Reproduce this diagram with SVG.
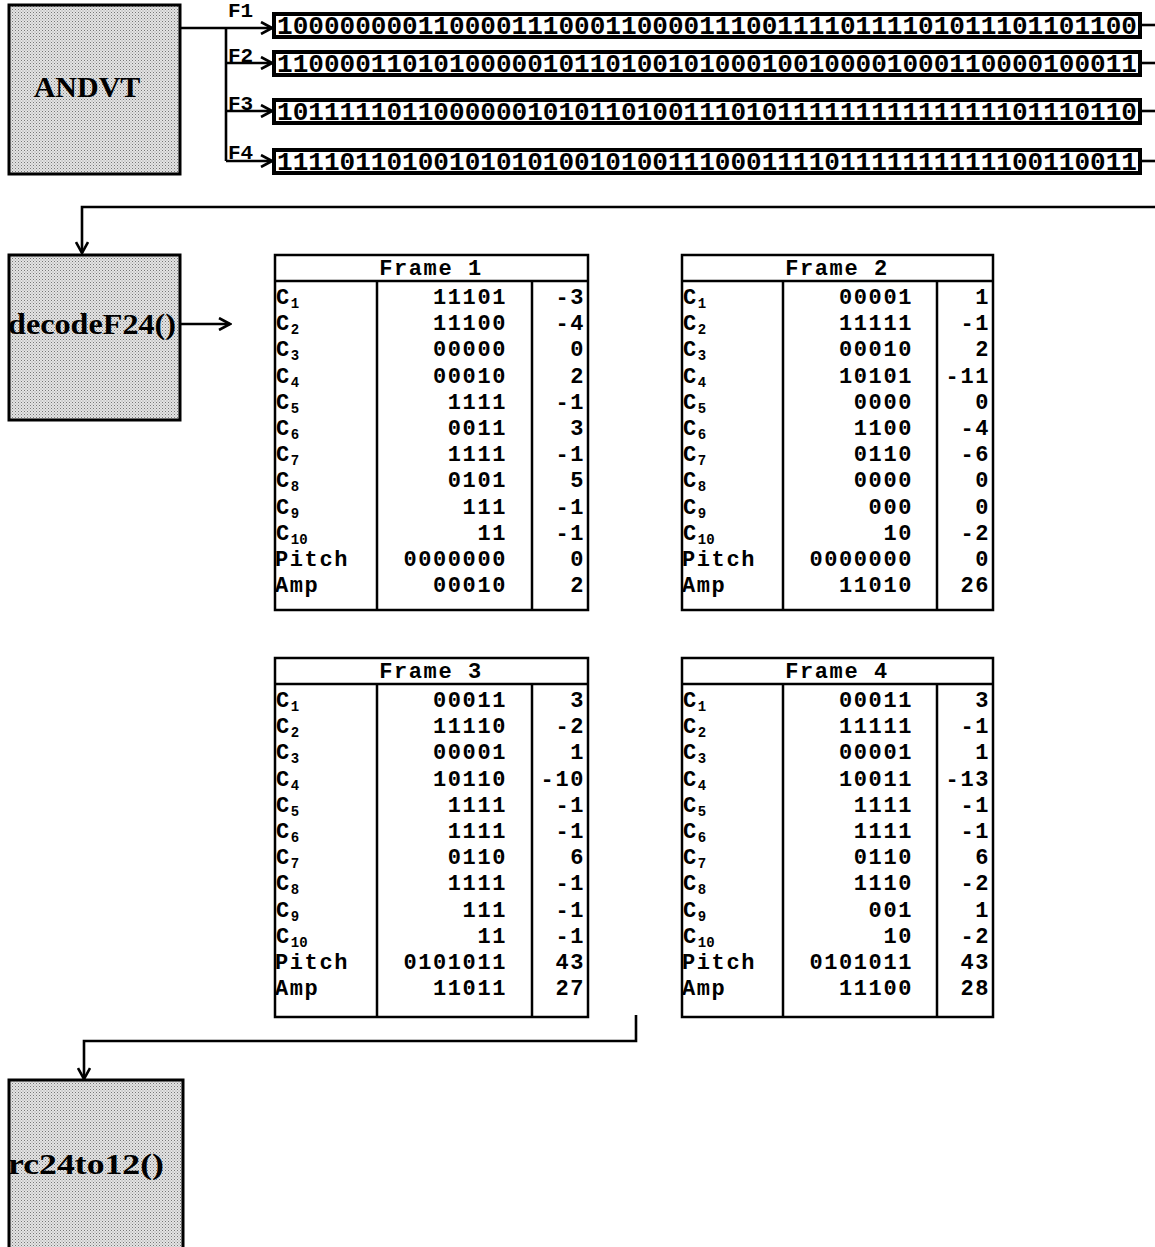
<svg xmlns="http://www.w3.org/2000/svg" width="1155" height="1247" viewBox="0 0 1155 1247">
<defs>
<pattern id="dots" width="3" height="3" patternUnits="userSpaceOnUse">
<rect width="3" height="3" fill="#e4e4e4"/>
<rect x="0" y="0" width="1" height="1" fill="#777"/>
<rect x="1.5" y="1.5" width="1" height="1" fill="#999"/>
</pattern>
<marker id="arr" viewBox="0 0 14 14" refX="12" refY="7" markerWidth="14" markerHeight="14" markerUnits="userSpaceOnUse" orient="auto">
<path d="M1,1 L12,7 L1,13" fill="none" stroke="#000" stroke-width="2.6"/>
</marker>
</defs>
<style>
.box{fill:url(#dots);stroke:#000;stroke-width:3}
.btxt{font-family:"Liberation Serif","Times New Roman",serif;font-weight:bold;font-size:30px;fill:#000}
.ln{fill:none;stroke:#000;stroke-width:2.6}
.strip{fill:#fff;stroke:#000;stroke-width:4}
.bits{font-family:"Liberation Mono","Courier New",monospace;font-weight:bold;font-size:26px;fill:#000}
.flab{font-family:"Liberation Mono","Courier New",monospace;font-weight:bold;font-size:21px;fill:#000}
.tb{fill:#fff;stroke:#000;stroke-width:2.5}
.tt{font-family:"Liberation Mono","Courier New",monospace;font-weight:bold;font-size:22px;letter-spacing:1.6px;fill:#000}
.r{text-anchor:end}
.c{text-anchor:middle}
.sub{font-size:14px;letter-spacing:0}
</style>

<g id="connectors">
<path class="ln" d="M180,28 H272" marker-end="url(#arr)"/>
<path class="ln" d="M226,28 V161"/>
<path class="ln" d="M226,63 H272" marker-end="url(#arr)"/>
<path class="ln" d="M226,111 H272" marker-end="url(#arr)"/>
<path class="ln" d="M226,161 H272" marker-end="url(#arr)"/>
<path class="ln" d="M1140,25 H1155"/>
<path class="ln" d="M1140,63 H1155"/>
<path class="ln" d="M1140,111 H1155"/>
<path class="ln" d="M1140,161 H1155"/>
<path class="ln" d="M1155,207 H82 V253" marker-end="url(#arr)"/>
<path class="ln" d="M178,324 H230" marker-end="url(#arr)"/>
<path class="ln" d="M636,1015 V1041 H84 V1079" marker-end="url(#arr)"/>
</g>

<g id="andvt">
<rect class="box" x="9" y="5" width="171" height="169"/>
<text class="btxt" x="87" y="97" text-anchor="middle">ANDVT</text>
</g>

<g id="bitstreams">
<text class="flab" x="228" y="17">F1</text>
<text class="flab" x="228" y="62">F2</text>
<text class="flab" x="228" y="110">F3</text>
<text class="flab" x="228" y="159">F4</text>
<rect class="strip" x="274" y="14" width="866" height="23"/>
<rect class="strip" x="274" y="52" width="866" height="23"/>
<rect class="strip" x="274" y="100" width="866" height="23"/>
<rect class="strip" x="274" y="150" width="866" height="23"/>
<text class="bits" x="277" y="34" textLength="860" lengthAdjust="spacingAndGlyphs">1000000001100001110001100001110011110111101011101101100</text>
<text class="bits" x="277" y="72" textLength="860" lengthAdjust="spacingAndGlyphs">1100001101010000010110100101000100100001000110000100011</text>
<text class="bits" x="277" y="120" textLength="860" lengthAdjust="spacingAndGlyphs">1011111011000000101011010011101011111111111111101110110</text>
<text class="bits" x="277" y="170" textLength="860" lengthAdjust="spacingAndGlyphs">1111011010010101010010100111000111101111111111100110011</text>
</g>

<g id="decodeF24">
<rect class="box" x="9" y="255" width="171" height="165"/>
<text class="btxt" x="8" y="334" textLength="168" lengthAdjust="spacingAndGlyphs">decodeF24()</text>
</g>

<g id="frame1" transform="translate(275,255)">
<rect class="tb" x="0" y="0" width="313" height="355"/>
<line class="tb" x1="0" y1="26" x2="313" y2="26"/>
<line class="tb" x1="102" y1="26" x2="102" y2="355"/>
<line class="tb" x1="257" y1="26" x2="257" y2="355"/>
<text class="tt c" x="156" y="20">Frame 1</text>
<g class="tt">
<text x="1" y="49">C<tspan class="sub" dy="3.5">1</tspan></text>
<text x="1" y="75">C<tspan class="sub" dy="3.5">2</tspan></text>
<text x="1" y="101">C<tspan class="sub" dy="3.5">3</tspan></text>
<text x="1" y="128">C<tspan class="sub" dy="3.5">4</tspan></text>
<text x="1" y="154">C<tspan class="sub" dy="3.5">5</tspan></text>
<text x="1" y="180">C<tspan class="sub" dy="3.5">6</tspan></text>
<text x="1" y="206">C<tspan class="sub" dy="3.5">7</tspan></text>
<text x="1" y="232">C<tspan class="sub" dy="3.5">8</tspan></text>
<text x="1" y="259">C<tspan class="sub" dy="3.5">9</tspan></text>
<text x="1" y="285">C<tspan class="sub" dy="3.5">10</tspan></text>
<text x="0" y="311">Pitch</text>
<text x="0" y="337">Amp</text>
</g>
<g class="tt r">
<text x="232" y="49">11101</text><text x="310" y="49">-3</text>
<text x="232" y="75">11100</text><text x="310" y="75">-4</text>
<text x="232" y="101">00000</text><text x="310" y="101">0</text>
<text x="232" y="128">00010</text><text x="310" y="128">2</text>
<text x="232" y="154">1111</text><text x="310" y="154">-1</text>
<text x="232" y="180">0011</text><text x="310" y="180">3</text>
<text x="232" y="206">1111</text><text x="310" y="206">-1</text>
<text x="232" y="232">0101</text><text x="310" y="232">5</text>
<text x="232" y="259">111</text><text x="310" y="259">-1</text>
<text x="232" y="285">11</text><text x="310" y="285">-1</text>
<text x="232" y="311">0000000</text><text x="310" y="311">0</text>
<text x="232" y="337">00010</text><text x="310" y="337">2</text>
</g>
</g>

<g id="frame2" transform="translate(682,255)">
<rect class="tb" x="0" y="0" width="311" height="355"/>
<line class="tb" x1="0" y1="26" x2="311" y2="26"/>
<line class="tb" x1="101" y1="26" x2="101" y2="355"/>
<line class="tb" x1="255" y1="26" x2="255" y2="355"/>
<text class="tt c" x="155" y="20">Frame 2</text>
<g class="tt">
<text x="1" y="49">C<tspan class="sub" dy="3.5">1</tspan></text>
<text x="1" y="75">C<tspan class="sub" dy="3.5">2</tspan></text>
<text x="1" y="101">C<tspan class="sub" dy="3.5">3</tspan></text>
<text x="1" y="128">C<tspan class="sub" dy="3.5">4</tspan></text>
<text x="1" y="154">C<tspan class="sub" dy="3.5">5</tspan></text>
<text x="1" y="180">C<tspan class="sub" dy="3.5">6</tspan></text>
<text x="1" y="206">C<tspan class="sub" dy="3.5">7</tspan></text>
<text x="1" y="232">C<tspan class="sub" dy="3.5">8</tspan></text>
<text x="1" y="259">C<tspan class="sub" dy="3.5">9</tspan></text>
<text x="1" y="285">C<tspan class="sub" dy="3.5">10</tspan></text>
<text x="0" y="311">Pitch</text>
<text x="0" y="337">Amp</text>
</g>
<g class="tt r">
<text x="231" y="49">00001</text><text x="308" y="49">1</text>
<text x="231" y="75">11111</text><text x="308" y="75">-1</text>
<text x="231" y="101">00010</text><text x="308" y="101">2</text>
<text x="231" y="128">10101</text><text x="308" y="128">-11</text>
<text x="231" y="154">0000</text><text x="308" y="154">0</text>
<text x="231" y="180">1100</text><text x="308" y="180">-4</text>
<text x="231" y="206">0110</text><text x="308" y="206">-6</text>
<text x="231" y="232">0000</text><text x="308" y="232">0</text>
<text x="231" y="259">000</text><text x="308" y="259">0</text>
<text x="231" y="285">10</text><text x="308" y="285">-2</text>
<text x="231" y="311">0000000</text><text x="308" y="311">0</text>
<text x="231" y="337">11010</text><text x="308" y="337">26</text>
</g>
</g>

<g id="frame3" transform="translate(275,658)">
<rect class="tb" x="0" y="0" width="313" height="359"/>
<line class="tb" x1="0" y1="26" x2="313" y2="26"/>
<line class="tb" x1="102" y1="26" x2="102" y2="359"/>
<line class="tb" x1="257" y1="26" x2="257" y2="359"/>
<text class="tt c" x="156" y="20">Frame 3</text>
<g class="tt">
<text x="1" y="49">C<tspan class="sub" dy="3.5">1</tspan></text>
<text x="1" y="75">C<tspan class="sub" dy="3.5">2</tspan></text>
<text x="1" y="101">C<tspan class="sub" dy="3.5">3</tspan></text>
<text x="1" y="128">C<tspan class="sub" dy="3.5">4</tspan></text>
<text x="1" y="154">C<tspan class="sub" dy="3.5">5</tspan></text>
<text x="1" y="180">C<tspan class="sub" dy="3.5">6</tspan></text>
<text x="1" y="206">C<tspan class="sub" dy="3.5">7</tspan></text>
<text x="1" y="232">C<tspan class="sub" dy="3.5">8</tspan></text>
<text x="1" y="259">C<tspan class="sub" dy="3.5">9</tspan></text>
<text x="1" y="285">C<tspan class="sub" dy="3.5">10</tspan></text>
<text x="0" y="311">Pitch</text>
<text x="0" y="337">Amp</text>
</g>
<g class="tt r">
<text x="232" y="49">00011</text><text x="310" y="49">3</text>
<text x="232" y="75">11110</text><text x="310" y="75">-2</text>
<text x="232" y="101">00001</text><text x="310" y="101">1</text>
<text x="232" y="128">10110</text><text x="310" y="128">-10</text>
<text x="232" y="154">1111</text><text x="310" y="154">-1</text>
<text x="232" y="180">1111</text><text x="310" y="180">-1</text>
<text x="232" y="206">0110</text><text x="310" y="206">6</text>
<text x="232" y="232">1111</text><text x="310" y="232">-1</text>
<text x="232" y="259">111</text><text x="310" y="259">-1</text>
<text x="232" y="285">11</text><text x="310" y="285">-1</text>
<text x="232" y="311">0101011</text><text x="310" y="311">43</text>
<text x="232" y="337">11011</text><text x="310" y="337">27</text>
</g>
</g>

<g id="frame4" transform="translate(682,658)">
<rect class="tb" x="0" y="0" width="311" height="359"/>
<line class="tb" x1="0" y1="26" x2="311" y2="26"/>
<line class="tb" x1="101" y1="26" x2="101" y2="359"/>
<line class="tb" x1="255" y1="26" x2="255" y2="359"/>
<text class="tt c" x="155" y="20">Frame 4</text>
<g class="tt">
<text x="1" y="49">C<tspan class="sub" dy="3.5">1</tspan></text>
<text x="1" y="75">C<tspan class="sub" dy="3.5">2</tspan></text>
<text x="1" y="101">C<tspan class="sub" dy="3.5">3</tspan></text>
<text x="1" y="128">C<tspan class="sub" dy="3.5">4</tspan></text>
<text x="1" y="154">C<tspan class="sub" dy="3.5">5</tspan></text>
<text x="1" y="180">C<tspan class="sub" dy="3.5">6</tspan></text>
<text x="1" y="206">C<tspan class="sub" dy="3.5">7</tspan></text>
<text x="1" y="232">C<tspan class="sub" dy="3.5">8</tspan></text>
<text x="1" y="259">C<tspan class="sub" dy="3.5">9</tspan></text>
<text x="1" y="285">C<tspan class="sub" dy="3.5">10</tspan></text>
<text x="0" y="311">Pitch</text>
<text x="0" y="337">Amp</text>
</g>
<g class="tt r">
<text x="231" y="49">00011</text><text x="308" y="49">3</text>
<text x="231" y="75">11111</text><text x="308" y="75">-1</text>
<text x="231" y="101">00001</text><text x="308" y="101">1</text>
<text x="231" y="128">10011</text><text x="308" y="128">-13</text>
<text x="231" y="154">1111</text><text x="308" y="154">-1</text>
<text x="231" y="180">1111</text><text x="308" y="180">-1</text>
<text x="231" y="206">0110</text><text x="308" y="206">6</text>
<text x="231" y="232">1110</text><text x="308" y="232">-2</text>
<text x="231" y="259">001</text><text x="308" y="259">1</text>
<text x="231" y="285">10</text><text x="308" y="285">-2</text>
<text x="231" y="311">0101011</text><text x="308" y="311">43</text>
<text x="231" y="337">11100</text><text x="308" y="337">28</text>
</g>
</g>

<g id="rc24to12">
<rect class="box" x="9" y="1080" width="174" height="170"/>
<text class="btxt" x="8" y="1174" textLength="156" lengthAdjust="spacingAndGlyphs">rc24to12()</text>
</g>
</svg>
